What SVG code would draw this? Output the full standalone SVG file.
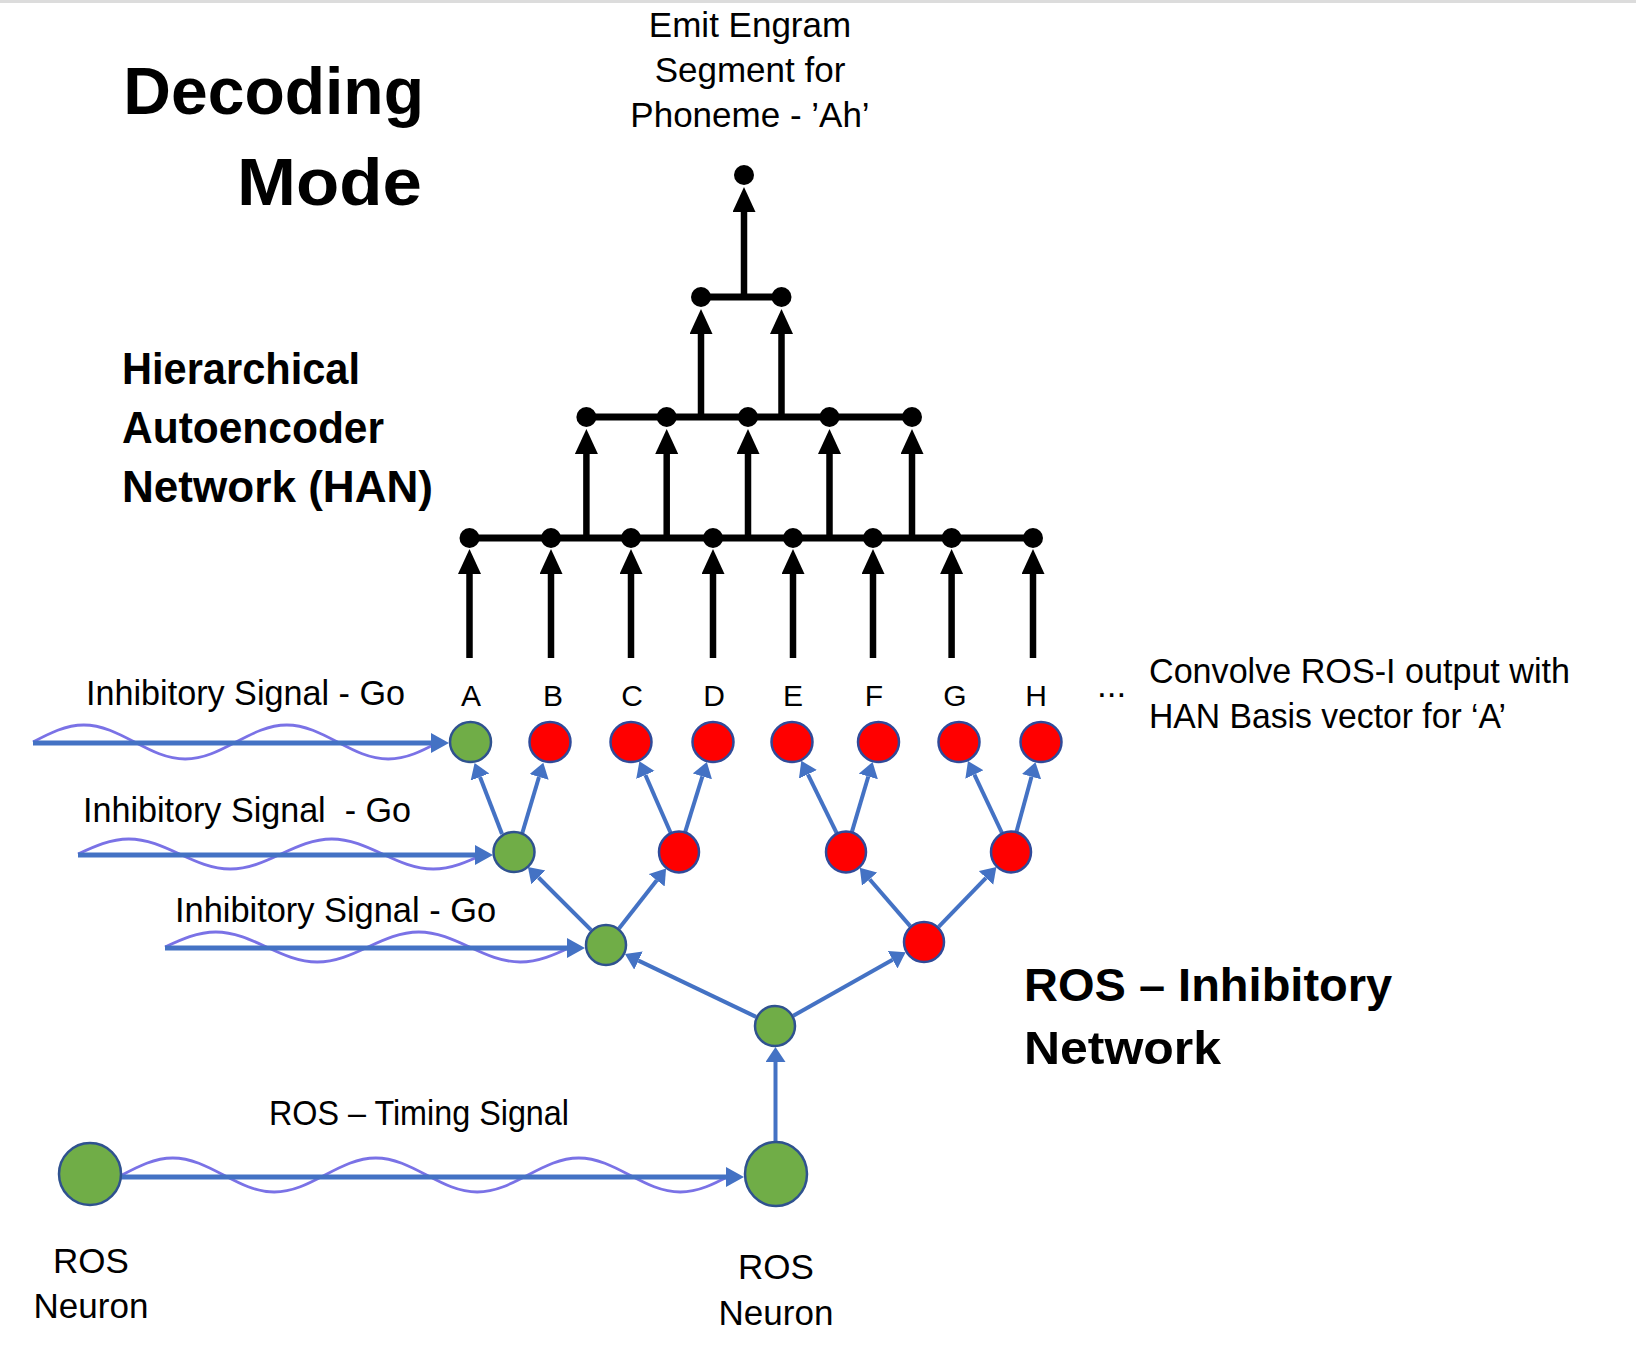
<svg xmlns="http://www.w3.org/2000/svg" width="1636" height="1347" viewBox="0 0 1636 1347">
<defs>
<style>
.t{font-family:"Liberation Sans",Arial,sans-serif;font-size:35px;fill:#000}
.lbl{font-family:"Liberation Sans",Arial,sans-serif;font-size:30px;fill:#000;text-anchor:middle}
.b{font-family:"Liberation Sans",Arial,sans-serif;font-weight:bold;fill:#000}
.blk{stroke:#000;stroke-width:7;fill:none}
.shaft{stroke:#000;stroke-width:6.5;fill:none}
.sig{stroke:#4472C4;stroke-width:5;fill:none}
.tree{stroke:#4472C4;stroke-width:4;fill:none}
.wave{stroke:#7A72E6;stroke-width:2.8;fill:none}
.g{fill:#70AD47;stroke:#2F528F;stroke-width:2.5}
.r{fill:#FF0000;stroke:#2F4A9A;stroke-width:2.5}
.dot{fill:#000}
</style>
<marker id="ak" markerUnits="userSpaceOnUse" markerWidth="26" markerHeight="24" refX="0" refY="11.5" orient="auto">
<path d="M0,0 L25,11.5 L0,23 z" fill="#000"/>
</marker>
<marker id="as" markerUnits="userSpaceOnUse" markerWidth="20" markerHeight="22" refX="0" refY="10" orient="auto">
<path d="M0,0 L18,10 L0,20 z" fill="#4472C4"/>
</marker>
<marker id="at" markerUnits="userSpaceOnUse" markerWidth="17" markerHeight="21" refX="0" refY="10" orient="auto">
<path d="M0,0 L15,10 L0,20 z" fill="#4472C4"/>
</marker>
</defs>
<rect x="0" y="0" width="1636" height="3" fill="#dcdcdc"/>

<g id="titles">
<text class="b" font-size="66" x="424" y="114" text-anchor="end">Decoding</text>
<text class="b" font-size="66" x="422" y="205" text-anchor="end" textLength="185" lengthAdjust="spacingAndGlyphs">Mode</text>
<text class="b" font-size="44" x="122" y="384" textLength="238" lengthAdjust="spacingAndGlyphs">Hierarchical</text>
<text class="b" font-size="44" x="122" y="443" textLength="262" lengthAdjust="spacingAndGlyphs">Autoencoder</text>
<text class="b" font-size="44" x="122" y="502" textLength="311" lengthAdjust="spacingAndGlyphs">Network (HAN)</text>
<text class="b" font-size="47" x="1024" y="1001">ROS – Inhibitory</text>
<text class="b" font-size="47" x="1024" y="1064" textLength="197" lengthAdjust="spacingAndGlyphs">Network</text>
</g>

<g id="emit-label">
<text class="t" font-size="34" x="750" y="37" text-anchor="middle">Emit Engram</text>
<text class="t" font-size="34" x="750" y="82" text-anchor="middle">Segment for</text>
<text class="t" font-size="34" x="750" y="127" text-anchor="middle">Phoneme - ’Ah’</text>
</g>

<g id="convolve-label">
<text class="t" x="1097" y="697" font-size="30">...</text>
<text class="t" x="1149" y="683" textLength="421" lengthAdjust="spacingAndGlyphs">Convolve ROS-I output with</text>
<text class="t" x="1149" y="728" textLength="357" lengthAdjust="spacingAndGlyphs">HAN Basis vector for ‘A’</text>
</g>

<g id="han-connectors">
<line class="shaft" x1="469.5" y1="658" x2="469.5" y2="574" marker-end="url(#ak)"/>
<line class="shaft" x1="551" y1="658" x2="551" y2="574" marker-end="url(#ak)"/>
<line class="shaft" x1="631" y1="658" x2="631" y2="574" marker-end="url(#ak)"/>
<line class="shaft" x1="713" y1="658" x2="713" y2="574" marker-end="url(#ak)"/>
<line class="shaft" x1="793" y1="658" x2="793" y2="574" marker-end="url(#ak)"/>
<line class="shaft" x1="873" y1="658" x2="873" y2="574" marker-end="url(#ak)"/>
<line class="shaft" x1="951.6" y1="658" x2="951.6" y2="574" marker-end="url(#ak)"/>
<line class="shaft" x1="1033" y1="658" x2="1033" y2="574" marker-end="url(#ak)"/>
<line class="blk" x1="469.5" y1="538" x2="1033" y2="538"/>
<line class="shaft" x1="586.4" y1="538" x2="586.4" y2="454" marker-end="url(#ak)"/>
<line class="shaft" x1="666.7" y1="538" x2="666.7" y2="454" marker-end="url(#ak)"/>
<line class="shaft" x1="748" y1="538" x2="748" y2="454" marker-end="url(#ak)"/>
<line class="shaft" x1="829.5" y1="538" x2="829.5" y2="454" marker-end="url(#ak)"/>
<line class="shaft" x1="912" y1="538" x2="912" y2="454" marker-end="url(#ak)"/>
<line class="blk" x1="586.4" y1="417" x2="912" y2="417"/>
<line class="shaft" x1="701" y1="417" x2="701" y2="334" marker-end="url(#ak)"/>
<line class="shaft" x1="781.5" y1="417" x2="781.5" y2="334" marker-end="url(#ak)"/>
<line class="blk" x1="701" y1="297" x2="781.5" y2="297"/>
<line class="shaft" x1="744" y1="297" x2="744" y2="212" marker-end="url(#ak)"/>
</g>

<g id="han-nodes">
<circle class="dot" cx="469.5" cy="538" r="10"/>
<circle class="dot" cx="551" cy="538" r="10"/>
<circle class="dot" cx="631" cy="538" r="10"/>
<circle class="dot" cx="713" cy="538" r="10"/>
<circle class="dot" cx="793" cy="538" r="10"/>
<circle class="dot" cx="873" cy="538" r="10"/>
<circle class="dot" cx="951.6" cy="538" r="10"/>
<circle class="dot" cx="1033" cy="538" r="10"/>
<circle class="dot" cx="586.4" cy="417" r="10"/>
<circle class="dot" cx="666.7" cy="417" r="10"/>
<circle class="dot" cx="748" cy="417" r="10"/>
<circle class="dot" cx="829.5" cy="417" r="10"/>
<circle class="dot" cx="912" cy="417" r="10"/>
<circle class="dot" cx="701" cy="297" r="10"/>
<circle class="dot" cx="781.5" cy="297" r="10"/>
<circle class="dot" cx="744" cy="175" r="10"/>
</g>

<g id="letters">
<text class="lbl" x="471" y="706">A</text>
<text class="lbl" x="553" y="706">B</text>
<text class="lbl" x="632" y="706">C</text>
<text class="lbl" x="714" y="706">D</text>
<text class="lbl" x="793" y="706">E</text>
<text class="lbl" x="874" y="706">F</text>
<text class="lbl" x="955" y="706">G</text>
<text class="lbl" x="1036" y="706">H</text>
</g>

<g id="signals">
<text class="t" x="86" y="705" textLength="319" lengthAdjust="spacingAndGlyphs">Inhibitory Signal - Go</text>
<path class="wave" d="M33,742 c16.53,-8.7 32.38,-17 50.75,-17 c18.37,0 34.22,8.3 50.75,17 c16.53,8.7 32.38,17 50.75,17 c18.37,0 34.22,-8.3 50.75,-17 c16.53,-8.7 32.38,-17 50.75,-17 c18.37,0 34.22,8.3 50.75,17 c16.53,8.7 32.38,17 50.75,17 c18.37,0 34.22,-8.3 50.75,-17"/>
<line class="sig" x1="33" y1="743" x2="431" y2="743" marker-end="url(#as)"/>

<text class="t" x="83" y="822" style="white-space:pre" xml:space="preserve" textLength="328" lengthAdjust="spacingAndGlyphs">Inhibitory Signal  - Go</text>
<path class="wave" d="M78,854 c16.53,-7.68 32.38,-15 50.75,-15 c18.37,0 34.22,7.32 50.75,15 c16.53,7.68 32.38,15 50.75,15 c18.37,0 34.22,-7.32 50.75,-15 c16.53,-7.68 32.38,-15 50.75,-15 c18.37,0 34.22,7.32 50.75,15 c16.53,7.68 32.38,15 50.75,15 c18.37,0 34.22,-7.32 50.75,-15"/>
<line class="sig" x1="78" y1="855" x2="475" y2="855" marker-end="url(#as)"/>

<text class="t" x="175" y="922" textLength="321" lengthAdjust="spacingAndGlyphs">Inhibitory Signal - Go</text>
<path class="wave" d="M165,947 c16.53,-7.68 32.38,-15 50.75,-15 c18.37,0 34.22,7.32 50.75,15 c16.53,7.68 32.38,15 50.75,15 c18.37,0 34.22,-7.32 50.75,-15 c16.53,-7.68 32.38,-15 50.75,-15 c18.37,0 34.22,7.32 50.75,15 c16.53,7.68 32.38,15 50.75,15 c18.37,0 34.22,-7.32 50.75,-15"/>
<line class="sig" x1="165" y1="948" x2="567" y2="948" marker-end="url(#as)"/>

<text class="t" x="269" y="1125" textLength="300" lengthAdjust="spacingAndGlyphs">ROS – Timing Signal</text>
<path class="wave" d="M122,1175 c16.53,-8.7 32.38,-17 50.75,-17 c18.37,0 34.22,8.3 50.75,17 c16.53,8.7 32.38,17 50.75,17 c18.37,0 34.22,-8.3 50.75,-17 c16.53,-8.7 32.38,-17 50.75,-17 c18.37,0 34.22,8.3 50.75,17 c16.53,8.7 32.38,17 50.75,17 c18.37,0 34.22,-8.3 50.75,-17 c16.53,-8.7 32.38,-17 50.75,-17 c18.37,0 34.22,8.3 50.75,17 c16.53,8.7 32.38,17 50.75,17 c18.37,0 34.22,-8.3 50.75,-17"/>
<line class="sig" x1="121" y1="1177" x2="726" y2="1177" marker-end="url(#as)"/>
</g>

<g id="ros-connectors">
<line class="tree" x1="502" y1="834" x2="480" y2="777" marker-end="url(#at)"/>
<line class="tree" x1="522" y1="834" x2="539" y2="777" marker-end="url(#at)"/>
<line class="tree" x1="670.6" y1="832.8" x2="645.4" y2="775.0" marker-end="url(#at)"/>
<line class="tree" x1="685.2" y1="831.9" x2="702.4" y2="776.4" marker-end="url(#at)"/>
<line class="tree" x1="836.7" y1="833.1" x2="807.9" y2="774.3" marker-end="url(#at)"/>
<line class="tree" x1="851.9" y1="831.9" x2="868.3" y2="776.5" marker-end="url(#at)"/>
<line class="tree" x1="1002.0" y1="833.0" x2="974.4" y2="774.6" marker-end="url(#at)"/>
<line class="tree" x1="1016.5" y1="831.7" x2="1031.5" y2="776.7" marker-end="url(#at)"/>
<line class="tree" x1="591.2" y1="930.2" x2="538.5" y2="877.5" marker-end="url(#at)"/>
<line class="tree" x1="619.0" y1="928.5" x2="656.8" y2="880.3" marker-end="url(#at)"/>
<line class="tree" x1="910.2" y1="926.1" x2="869.6" y2="879.2" marker-end="url(#at)"/>
<line class="tree" x1="938.6" y1="926.9" x2="986.0" y2="877.9" marker-end="url(#at)"/>
<line class="tree" x1="756.1" y1="1016.9" x2="638.5" y2="960.6" marker-end="url(#at)"/>
<line class="tree" x1="793.3" y1="1015.7" x2="892.6" y2="959.7" marker-end="url(#at)"/>
<line class="tree" x1="775.5" y1="1142" x2="775.5" y2="1062" marker-end="url(#at)"/>
</g>

<g id="ros-row1">
<ellipse class="g" cx="470.5" cy="742" rx="20.5" ry="20"/>
<ellipse class="r" cx="550" cy="742" rx="20.5" ry="20"/>
<ellipse class="r" cx="631" cy="742" rx="20.5" ry="20"/>
<ellipse class="r" cx="713" cy="742" rx="20.5" ry="20"/>
<ellipse class="r" cx="792" cy="742" rx="20.5" ry="20"/>
<ellipse class="r" cx="878.5" cy="742" rx="20.5" ry="20"/>
<ellipse class="r" cx="959" cy="742" rx="20.5" ry="20"/>
<ellipse class="r" cx="1041" cy="742" rx="20.5" ry="20"/>
</g>
<g id="ros-row2">
<ellipse class="g" cx="514" cy="852" rx="20.5" ry="20"/>
<ellipse class="r" cx="679" cy="852" rx="20" ry="20.5"/>
<ellipse class="r" cx="846" cy="852" rx="20" ry="20.5"/>
<ellipse class="r" cx="1011" cy="852" rx="20" ry="20.5"/>
</g>
<g id="ros-row3">
<ellipse class="g" cx="606" cy="945" rx="20" ry="20"/>
<ellipse class="r" cx="924" cy="942" rx="20" ry="20"/>
</g>
<g id="ros-row4">
<ellipse class="g" cx="775" cy="1026" rx="20" ry="20"/>
</g>
<g id="ros-neuron-left">
<ellipse class="g" cx="90" cy="1174" rx="31" ry="31"/>
<text class="t" x="91" y="1273" text-anchor="middle">ROS</text>
<text class="t" x="91" y="1318" text-anchor="middle">Neuron</text>
</g>
<g id="ros-neuron-right">
<ellipse class="g" cx="776" cy="1174" rx="31" ry="32"/>
<text class="t" x="776" y="1279" text-anchor="middle">ROS</text>
<text class="t" x="776" y="1325" text-anchor="middle">Neuron</text>
</g>
</svg>
